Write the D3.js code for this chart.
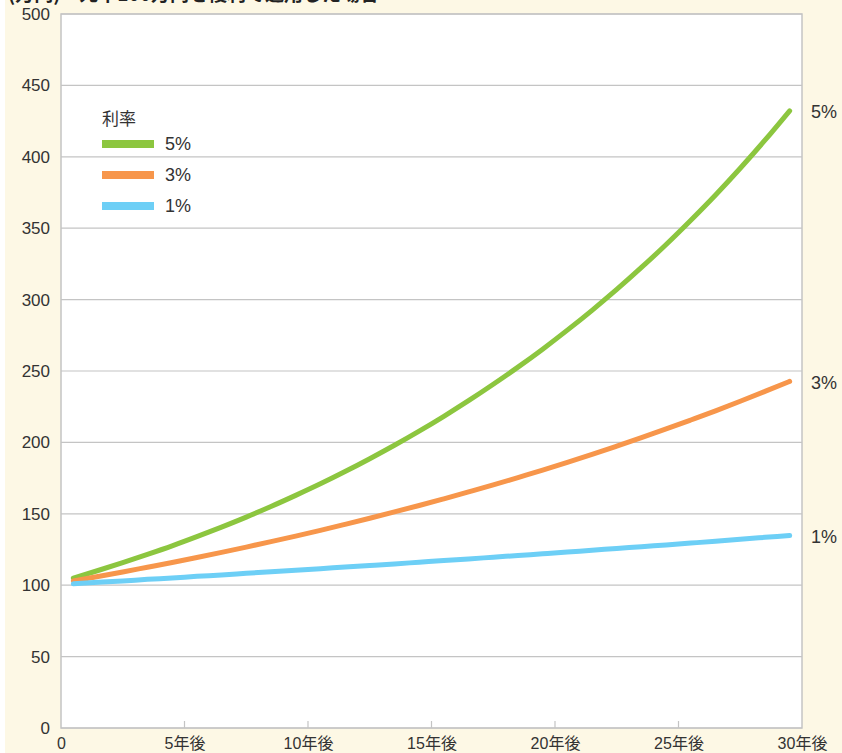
<!DOCTYPE html>
<html><head><meta charset="utf-8">
<script src="https://cdn.jsdelivr.net/npm/d3@7"></script>
<style>body{margin:0;background:#fff}svg{display:block}</style>
</head><body>
<svg id="c" width="842" height="753"></svg>
<script>
const years = d3.range(1, 31);
const rate5 = [105.0,110.3,115.8,121.6,127.6,134.0,140.7,147.7,155.1,162.9,171.0,179.6,188.6,198.0,207.9,218.3,229.2,240.7,252.7,265.3,278.6,292.5,307.1,322.5,338.6,355.6,373.3,392.0,411.6,432.2];
const rate3 = [103.0,106.1,109.3,112.6,115.9,119.4,123.0,126.7,130.5,134.4,138.4,142.6,146.9,151.3,155.8,160.5,165.3,170.2,175.4,180.6,186.0,191.6,197.4,203.3,209.4,215.7,222.1,228.8,235.7,242.7];
const rate1 = [101.0,102.0,103.0,104.1,105.1,106.2,107.2,108.3,109.4,110.5,111.6,112.7,113.8,114.9,116.1,117.3,118.4,119.6,120.8,122.0,123.2,124.5,125.7,127.0,128.2,129.5,130.8,132.2,133.5,134.8];
const seriesNames = ["5%","3%","1%"];
const yTicks = [0,50,100,150,200,250,300,350,400,450,500];
const xTicks = [0,5,10,15,20,25,30];
const xTickLabels = ["0","5年後","10年後","15年後","20年後","25年後","30年後"];
const title = "(万円)　元本100万円を複利で運用した場合";

const colors = ["#8cc63f","#f7964b","#6dcff6"];
const series = [rate5, rate3, rate1];

const svg = d3.select("#c");
const L = 61, R = 802, T = 14, B = 728;
svg.append("rect").attr("x",5).attr("y",0).attr("width",837).attr("height",753).attr("fill","#fdf8e5");
svg.append("rect").attr("x",L).attr("y",T).attr("width",R-L).attr("height",B-T).attr("fill","#fff");

const x = d3.scaleLinear().domain([0,30]).range([L,R]);
const y = d3.scaleLinear().domain([0,500]).range([B,T]);

svg.append("g").selectAll("line").data(yTicks).join("line")
  .attr("x1",L).attr("x2",R).attr("y1",d=>y(d)).attr("y2",d=>y(d))
  .attr("stroke","#c4c4c4").attr("stroke-width",1.2);
svg.append("rect").attr("x",L).attr("y",T).attr("width",R-L).attr("height",B-T)
  .attr("fill","none").attr("stroke","#c4c4c4").attr("stroke-width",1.5);

const yAxis = d3.axisLeft(y).tickValues(yTicks).tickSize(0).tickPadding(11);
const gy = svg.append("g").attr("transform",`translate(${L},0)`).call(yAxis);
gy.select(".domain").remove();
gy.selectAll("text").attr("font-family","Liberation Sans, Arial, sans-serif").attr("font-size",17).attr("fill","#333");

const xAxis = d3.axisBottom(x).tickValues(xTicks).tickSize(0).tickFormat((d,i)=>xTickLabels[i]);
const gx = svg.append("g").attr("transform",`translate(0,${B})`).call(xAxis);
gx.select(".domain").remove();
gx.selectAll("text").attr("font-family","Liberation Sans, 'Noto Sans CJK JP', sans-serif").attr("font-size",16).attr("fill","#333").attr("y",10).attr("dy","0.71em");
svg.append("g").selectAll("line").data(xTicks.slice(1,-1)).join("line")
  .attr("x1",d=>x(d)).attr("x2",d=>x(d)).attr("y1",B).attr("y2",B-7)
  .attr("stroke","#c4c4c4").attr("stroke-width",1.2);

const xc = d => x(d - 0.5);
const line = d3.line().x((d,i)=>xc(years[i])).y(d=>y(d)).curve(d3.curveMonotoneX);
series.forEach((s,k)=>{
  svg.append("path").datum(s).attr("d",line).attr("fill","none")
    .attr("stroke",colors[k]).attr("stroke-width",5).attr("stroke-linecap","round");
  svg.append("text").attr("x",811).attr("y",y(s[s.length-1])+1).attr("dy","0.35em")
    .attr("font-family","Liberation Sans, Arial, sans-serif").attr("font-size",18).attr("fill","#333").text(seriesNames[k]);
});

const lg = svg.append("g");
lg.append("text").attr("x",102).attr("y",125).attr("font-family","'Noto Sans CJK JP', sans-serif").attr("font-size",17).attr("fill","#333").text("利率");
seriesNames.forEach((n,k)=>{
  const yy = 144 + k*31;
  lg.append("rect").attr("x",102).attr("y",yy-4).attr("width",52).attr("height",8).attr("fill",colors[k]);
  lg.append("text").attr("x",165).attr("y",yy).attr("dy","0.36em").attr("font-family","Liberation Sans, Arial, sans-serif").attr("font-size",18).attr("fill","#333").text(n);
});

svg.append("text").attr("x",8).attr("y",1).attr("font-family","'Noto Sans CJK JP', sans-serif").attr("font-weight","bold").attr("font-size",19).attr("fill","#222").text(title);
</script>
</body></html>
